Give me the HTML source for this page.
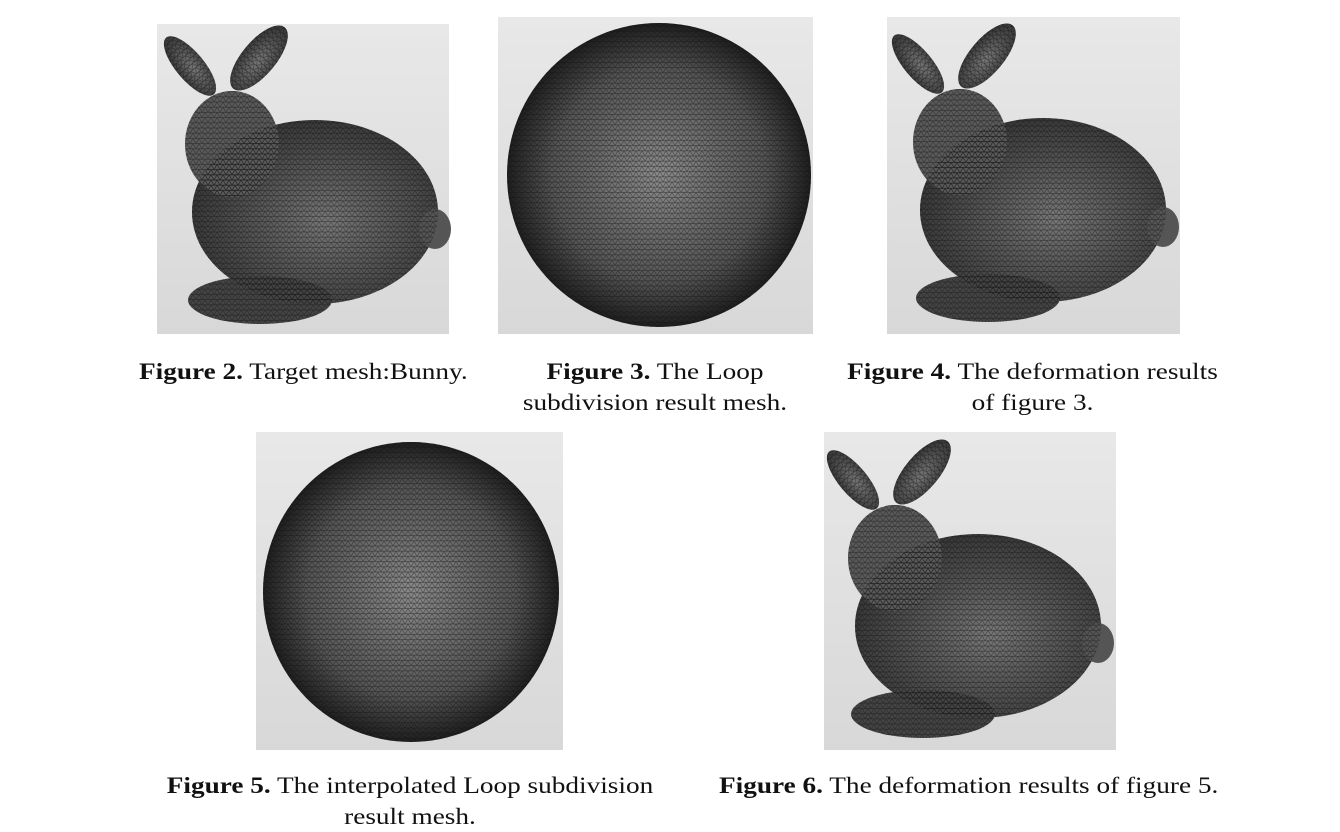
<!DOCTYPE html>
<html><head><meta charset="utf-8"><style>
html,body{margin:0;padding:0;background:#fff;width:1340px;height:830px;overflow:hidden}
.cap{position:absolute;font-family:"Liberation Serif",serif;font-size:23px;color:#111;white-space:nowrap;text-align:center;line-height:31px;transform:scaleX(1.185);transform-origin:left top}
.cap.c{transform-origin:center top}
.cap b{font-weight:bold}
</style></head><body>
<svg width="1340" height="830" style="position:absolute;left:0;top:0">
<defs>
<pattern id="mesh" width="6" height="5.2" patternUnits="userSpaceOnUse">
<path d="M0 0L6 0M0 0L3 5.2L6 0M0 5.2L6 5.2" stroke="#111" stroke-width="0.6" fill="none" opacity="0.55"/>
</pattern>
<linearGradient id="bg" x1="0" y1="0" x2="0" y2="1"><stop offset="0" stop-color="#e8e8e8"/><stop offset="1" stop-color="#d8d8d8"/></linearGradient>
<radialGradient id="sph" cx="0.5" cy="0.5" r="0.5"><stop offset="0" stop-color="#8a8a8a"/><stop offset="0.7" stop-color="#555"/><stop offset="1" stop-color="#1e1e1e"/></radialGradient>
<radialGradient id="bun" cx="0.55" cy="0.55" r="0.6"><stop offset="0" stop-color="#777"/><stop offset="1" stop-color="#333"/></radialGradient>
<g id="bunny">
<ellipse cx="33" cy="42" rx="14" ry="37" transform="rotate(-40 33 42)" fill="url(#bun)"/>
<ellipse cx="102" cy="34" rx="17" ry="40" transform="rotate(40 102 34)" fill="url(#bun)"/>
<ellipse cx="158" cy="188" rx="123" ry="92" fill="url(#bun)"/>
<ellipse cx="103" cy="276" rx="72" ry="24" fill="#444"/>
<ellipse cx="278" cy="205" rx="16" ry="20" fill="#555"/>
<ellipse cx="75" cy="120" rx="47" ry="53" fill="#5a5a5a"/>
<ellipse cx="33" cy="42" rx="14" ry="37" transform="rotate(-40 33 42)" fill="url(#mesh)"/>
<ellipse cx="102" cy="34" rx="17" ry="40" transform="rotate(40 102 34)" fill="url(#mesh)"/>
<ellipse cx="158" cy="188" rx="123" ry="92" fill="url(#mesh)"/>
<ellipse cx="103" cy="276" rx="72" ry="24" fill="url(#mesh)"/>
<ellipse cx="75" cy="120" rx="47" ry="53" fill="url(#mesh)"/>
</g>
</defs>
<g>
<rect x="157" y="24" width="292" height="310" fill="url(#bg)"/>
<use href="#bunny" transform="translate(157,24)"/>
</g>
<g>
<rect x="498" y="17" width="315" height="317" fill="url(#bg)"/>
<circle cx="659" cy="175" r="152" fill="url(#sph)"/>
<circle cx="659" cy="175" r="152" fill="url(#mesh)"/>
</g>
<g>
<rect x="887" y="17" width="293" height="317" fill="url(#bg)"/>
<use href="#bunny" transform="translate(885,22)"/>
</g>
<g>
<rect x="256" y="432" width="307" height="318" fill="url(#bg)"/>
<ellipse cx="411" cy="592" rx="148" ry="150" fill="url(#sph)"/>
<ellipse cx="411" cy="592" rx="148" ry="150" fill="url(#mesh)"/>
</g>
<g>
<rect x="824" y="432" width="292" height="318" fill="url(#bg)"/>
<use href="#bunny" transform="translate(820,438)"/>
</g>
</svg>
<div class="cap" style="left:139px;top:356px"><b>Figure 2.</b> Target mesh:Bunny.</div>
<div class="cap c" style="left:505px;top:356px;width:300px"><b>Figure 3.</b> The Loop<br>subdivision result mesh.</div>
<div class="cap c" style="left:840px;top:356px;width:385px"><b>Figure 4.</b> The deformation results<br>of figure 3.</div>
<div class="cap c" style="left:160px;top:770px;width:500px"><b>Figure 5.</b> The interpolated Loop subdivision<br>result mesh.</div>
<div class="cap" style="left:719px;top:770px"><b>Figure 6.</b> The deformation results of figure 5.</div>
</body></html>
